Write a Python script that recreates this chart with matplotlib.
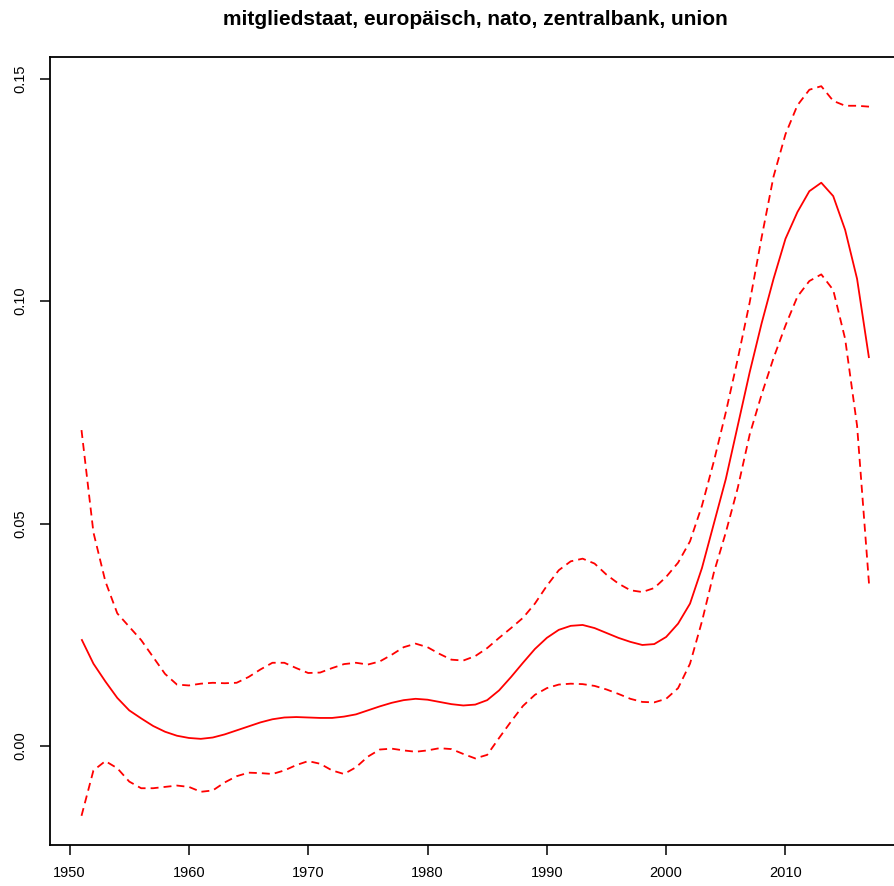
import matplotlib
matplotlib.use("Agg")
import matplotlib.pyplot as plt

years = list(range(1951, 2018))

fit = [0.0240, 0.0185, 0.0145, 0.0108, 0.0080, 0.0062, 0.0045, 0.0032, 0.0023, 0.0018,
       0.0016, 0.0019, 0.0026, 0.0035, 0.0044, 0.0053, 0.0060, 0.0064, 0.0065, 0.0064,
       0.0063, 0.0063, 0.0066, 0.0071, 0.0080, 0.0089, 0.0097, 0.0103, 0.0106, 0.0104,
       0.0099, 0.0094, 0.0091, 0.0093, 0.0103, 0.0125, 0.0155, 0.0187, 0.0218, 0.0243,
       0.0261, 0.0270, 0.0272, 0.0265, 0.0254, 0.0243, 0.0234, 0.0227, 0.0229, 0.0245,
       0.0275, 0.0320, 0.0400, 0.0500, 0.0600, 0.0720, 0.0840, 0.0950, 0.1050, 0.1140,
       0.1200, 0.1247, 0.1266, 0.1236, 0.1160, 0.1050, 0.0872]

upper = [0.0710, 0.0480, 0.0370, 0.0298, 0.0268, 0.0238, 0.0200, 0.0162, 0.0138, 0.0136,
         0.0140, 0.0142, 0.0141, 0.0142, 0.0155, 0.0172, 0.0187, 0.0187, 0.0175, 0.0164,
         0.0165, 0.0175, 0.0184, 0.0187, 0.0183, 0.0190, 0.0205, 0.0222, 0.0230, 0.0222,
         0.0207, 0.0194, 0.0192, 0.0202, 0.0220, 0.0243, 0.0265, 0.0288, 0.0320, 0.0360,
         0.0395, 0.0415, 0.0421, 0.0410, 0.0385, 0.0365, 0.0350, 0.0346, 0.0355, 0.0380,
         0.0412, 0.0460, 0.0540, 0.0640, 0.0750, 0.0870, 0.0997, 0.1143, 0.1280, 0.1375,
         0.1440, 0.1475, 0.1483, 0.1450, 0.1439, 0.1439, 0.1437]

lower = [-0.0157, -0.0055, -0.0034, -0.0050, -0.0080, -0.0095, -0.0095, -0.0092, -0.0089, -0.0092,
         -0.0103, -0.0100, -0.0082, -0.0068, -0.0060, -0.0061, -0.0063, -0.0055, -0.0043, -0.0034,
         -0.0040, -0.0055, -0.0063, -0.0048, -0.0024, -0.0008, -0.0006, -0.0010, -0.0013, -0.0010,
         -0.0005, -0.0007, -0.0018, -0.0028, -0.0020, 0.0018, 0.0055, 0.0090, 0.0115, 0.0130,
         0.0138, 0.0140, 0.0139, 0.0135, 0.0127, 0.0117, 0.0106, 0.0099, 0.0098, 0.0106,
         0.0130, 0.0185, 0.0280, 0.0390, 0.0480, 0.0580, 0.0700, 0.0790, 0.0872, 0.0945,
         0.1010, 0.1045, 0.1060, 0.1025, 0.0915, 0.0720, 0.0365]

title = "mitgliedstaat, europäisch, nato, zentralbank, union"
xticks = [1950, 1960, 1970, 1980, 1990, 2000, 2010]
yticks = [0.00, 0.05, 0.10, 0.15]
ytick_labels = ["0.00", "0.05", "0.10", "0.15"]

plt.rcParams['font.family'] = ['Liberation Sans', 'DejaVu Sans']

fig = plt.figure(figsize=(8.94, 8.86), dpi=100)
ax = fig.add_axes([50 / 894, 41 / 886, 850.5 / 894, 788 / 886])

ax.plot(years, fit, color='#ff0000', lw=1.3, solid_capstyle='butt', solid_joinstyle='round')
ax.plot(years, upper, color='#ff0000', lw=1.3, dashes=(4.4, 2.8), dash_joinstyle='round')
ax.plot(years, lower, color='#ff0000', lw=1.3, dashes=(4.4, 2.8), dash_joinstyle='round')

x0, x1 = min(years), max(years)
xr = (x1 - x0) * 0.04
ax.set_xlim(x0 - xr, x1 + xr)
lo, hi = min(lower), max(upper)
yr = (hi - lo) * 0.04
ax.set_ylim(lo - yr, hi + yr)

ax.set_xticks(xticks)
ax.set_xticklabels([str(t) for t in xticks], fontsize=10.5)
ax.set_yticks(yticks)
ax.set_yticklabels(ytick_labels, fontsize=10.5, rotation=90, va='center')
ax.tick_params(axis='both', direction='out', length=7, width=1.1, color='black', pad=8)
ax.tick_params(axis='y', pad=9.5)

for s in ax.spines.values():
    s.set_linewidth(1.3)
    s.set_color('black')

ax.set_title(title, fontsize=15, fontweight='bold', pad=23)

fig.savefig("out.png", dpi=100)
